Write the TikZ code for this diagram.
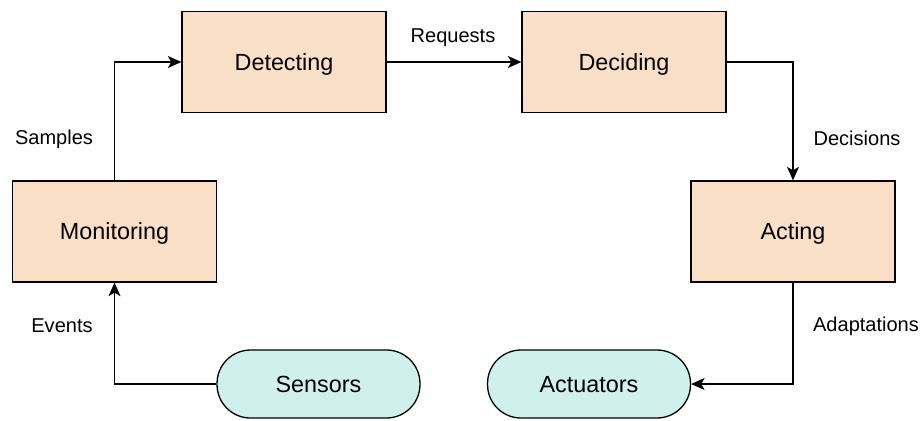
\documentclass[tikz,border=0pt]{standalone}
\usepackage{fontspec}
\setmainfont{Liberation Sans}
\usetikzlibrary{arrows.meta}
\definecolor{peach}{HTML}{FADFC7}
\definecolor{mint}{HTML}{D0F0EC}
\tikzset{
  stage/.style={draw, fill=peach, line width=0.026cm, minimum width=4.08cm, minimum height=2.02cm, text depth=0pt, font=\fontsize{13.3}{16}\selectfont},
  device/.style={draw, fill=mint, line width=0.026cm, rounded corners=0.67cm, minimum width=4.06cm, minimum height=1.36cm, text depth=0pt, font=\fontsize{13.3}{16}\selectfont},
  flow/.style={-{Stealth[length=0.27cm,width=0.24cm,inset=0.07cm]}, line width=0.026cm},
  lbl/.style={font=\fontsize{11.4}{14}\selectfont}
}
\begin{document}
\begin{tikzpicture}[x=0.02cm,y=-0.02cm]
  \useasboundingbox (0,0) rectangle (922,420);
  \node[stage](det) at (284,62) {Detecting};
  \node[stage](dec) at (624,62) {Deciding};
  \node[stage](mon) at (114.5,231.5) {Monitoring};
  \node[stage](act) at (793,231.5) {Acting};
  \node[device](sen) at (318.5,384) {Sensors};
  \node[device](acu) at (589,384) {Actuators};
  \draw[flow] (mon.north) |- (det.west);
  \draw[flow] (det.east) -- (dec.west);
  \draw[flow] (dec.east) -| (act.north);
  \draw[flow] (act.south) |- (acu.east);
  \draw[flow] (sen.west) -| (mon.south);
  \node[lbl](samples) at (54,139) {Samples};
  \node[lbl](requests) at (453,38) {Requests};
  \node[lbl](decisions) at (857,138) {Decisions};
  \node[lbl](adaptations) at (866,326) {Adaptations};
  \node[lbl](events) at (62,326) {Events};
\end{tikzpicture}
\end{document}
